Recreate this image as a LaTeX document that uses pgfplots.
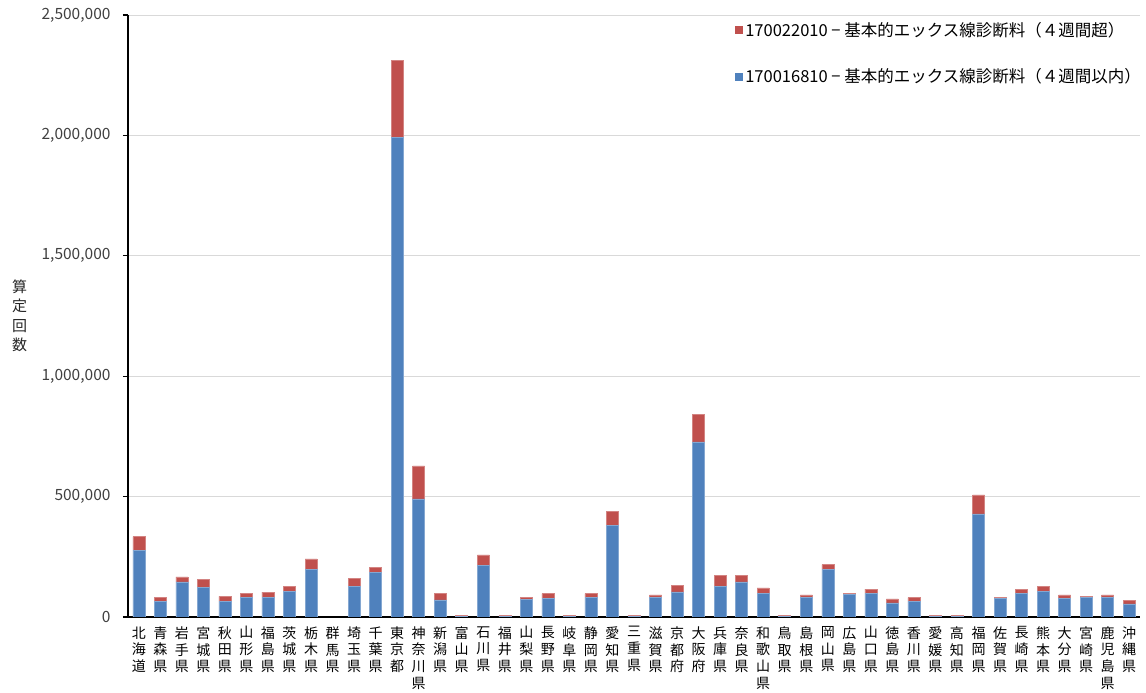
\documentclass[border=0pt]{standalone}
\usepackage{fontspec}
\setmainfont{Noto Sans CJK JP}
\usepackage{pgfplots}
\usepackage{pgfplotstable}
\usetikzlibrary{calc}
\pgfplotsset{compat=1.18}
\definecolor{xblue}{HTML}{4F81BD}
\definecolor{xred}{HTML}{C0504D}
\definecolor{gridc}{HTML}{D9D9D9}

% x: category index, b: 4週間以内 (blue), r: 4週間超 (red, stacked on top)
\pgfplotstableread{
x b r
0 277800 55500
1 63900 16700
2 145800 20900
3 122200 33400
4 63900 22200
5 80600 16600
6 80600 22200
7 105600 20800
8 197200 44500
9 0 0
10 127800 33300
11 186100 20900
12 1993000 320000
13 491000 137000
14 70800 26400
15 1500 4000
16 213900 44400
17 1500 4000
18 72200 8400
19 76400 20800
20 1500 4000
21 80600 16600
22 382000 55500
23 1500 4000
24 82000 9700
25 104200 27800
26 727000 115000
27 127800 44400
28 145800 26400
29 97200 23600
30 1500 4000
31 82000 9700
32 197200 20800
33 93100 4100
34 97200 18100
35 58300 16700
36 63900 16700
37 1500 4000
38 1500 4000
39 427800 79200
40 76400 4200
41 97200 18100
42 105600 20800
43 76400 15300
44 82000 4100
45 82000 9700
46 54200 15200
}\datatable

\begin{document}
\begin{tikzpicture}
\begin{axis}[
  name=ax,
  scale only axis,
  width=1012pt, height=602pt,
  ybar stacked,
  bar width=12pt,
  xmin=-0.5, xmax=46.5,
  ymin=0, ymax=2500000,
  ytick={0,500000,1000000,1500000,2000000,2500000},
  scaled y ticks=false,
  /pgf/number format/assume math mode=true,
  yticklabel style={/pgf/number format/fixed,/pgf/number format/1000 sep={,},font=\fontsize{15.5}{18}\selectfont, color=black!75, xshift=-9pt},
  ymajorgrids,
  grid style={gridc, line width=0.8pt},
  axis lines*=left,
  axis line style={black, line width=1.4pt},
  tick style={black, line width=1.2pt},
  tick align=outside,
  major tick length=5pt,
  xtick={0,...,46},
  x tick style={draw=none},
  minor xtick={-0.5,0.5,...,46.5},
  minor x tick style={black, line width=1.2pt},
  minor tick length=5pt,
  xticklabels={
    {北\\海\\道},{青\\森\\県},{岩\\手\\県},{宮\\城\\県},{秋\\田\\県},{山\\形\\県},{福\\島\\県},{茨\\城\\県},{栃\\木\\県},{群\\馬\\県},
    {埼\\玉\\県},{千\\葉\\県},{東\\京\\都},{神\\奈\\川\\県},{新\\潟\\県},{富\\山\\県},{石\\川\\県},{福\\井\\県},{山\\梨\\県},{長\\野\\県},
    {岐\\阜\\県},{静\\岡\\県},{愛\\知\\県},{三\\重\\県},{滋\\賀\\県},{京\\都\\府},{大\\阪\\府},{兵\\庫\\県},{奈\\良\\県},{和\\歌\\山\\県},
    {鳥\\取\\県},{島\\根\\県},{岡\\山\\県},{広\\島\\県},{山\\口\\県},{徳\\島\\県},{香\\川\\県},{愛\\媛\\県},{高\\知\\県},{福\\岡\\県},
    {佐\\賀\\県},{長\\崎\\県},{熊\\本\\県},{大\\分\\県},{宮\\崎\\県},{鹿\\児\\島\\県},{沖\\縄\\県}},
  xticklabel style={align=center, font=\fontsize{14}{16.7}\selectfont, anchor=north, yshift=-1pt},
  ylabel={算\\定\\回\\数},
  every axis y label/.style={at={(axis description cs:-0.107,0.5)}, anchor=center, align=center, font=\fontsize{15}{19.5}\selectfont, color=black!85},
  legend image code/.code={\fill[#1,/tikz/.cd,draw=none] (0pt,-4pt) rectangle (8pt,4pt);},
  reverse legend,
  legend style={draw=none, fill=none, at={(axis description cs:1.0,0.995)}, anchor=north east, xshift=6pt, font=\fontsize{16.5}{19}\selectfont, row sep=27pt, legend cell align=left},
]
\addplot[fill=xblue, draw=xblue!70!white, line width=0.5pt] table[x=x,y=b]{\datatable};
\addplot[fill=xred, draw=xred!70!white, line width=0.5pt] table[x=x,y=r]{\datatable};
\legend{170016810 − 基本的エックス線診断料（４週間以内）, 170022010 − 基本的エックス線診断料（４週間超）}
\end{axis}
\path ($(ax.south west)+(-128pt,-75pt)$) rectangle ($(ax.north east)+(6pt,15pt)$);
\end{tikzpicture}
\end{document}
